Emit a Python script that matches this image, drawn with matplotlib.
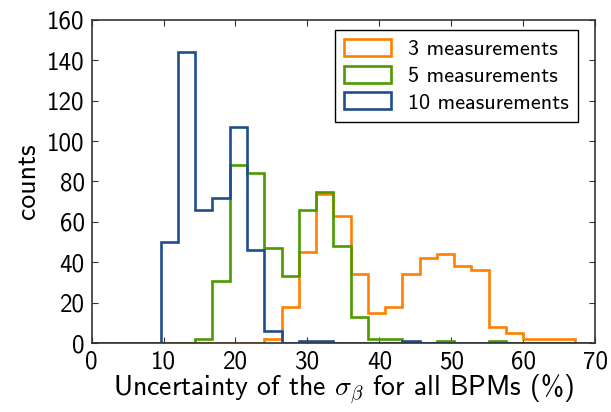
import numpy as np
import matplotlib
matplotlib.use("Agg")
import matplotlib.pyplot as plt

# --- DADOS ---
bordas = np.arange(0, 69.7, 2.4)   # 30 bordas -> 29 bins

contagem_3 = [0, 0, 0, 0, 0, 0, 0, 0, 0, 0, 2, 18, 45, 74, 63, 34, 15, 18, 34,
              42, 44, 38, 36, 8, 5, 2, 2, 2, 0]
contagem_5 = [0, 0, 0, 0, 0, 0, 2, 31, 88, 84, 47, 33, 66, 75, 48, 13, 2, 2, 0,
              0, 1, 0, 0, 1, 0, 0, 0, 0, 0]
contagem_10 = [0, 0, 0, 0, 50, 144, 66, 72, 107, 46, 6, 0, 1, 1, 0, 0, 0, 0, 1,
               0, 0, 0, 0, 0, 0, 0, 0, 0, 0]

rotulos = ['3 measurements', '5 measurements', '10 measurements']
cores = ['#ff7f00', '#4c9a00', '#1f4e8c']

# --- ESTILO ---
plt.rcParams['font.family'] = ['cmss10', 'DejaVu Sans']
plt.rcParams['mathtext.fontset'] = 'cm'
plt.rcParams['axes.unicode_minus'] = False

fig = plt.figure(figsize=(6.11, 4.12), dpi=100)
ax = fig.add_axes([0.150, 0.167, 0.824, 0.785])

centros = bordas[:-1] + 1.2
for cont, rot, cor in zip([contagem_3, contagem_5, contagem_10], rotulos, cores):
    ax.hist(centros, bins=bordas, weights=cont, histtype='step',
            color=cor, lw=1.9, label=rot)

ax.set_xlim(0, 70)
ax.set_ylim(0, 160)
ax.set_xticks(range(0, 71, 10))
ax.set_yticks(range(0, 161, 20))
ax.tick_params(direction='in', top=True, right=True, labelsize=18, length=4,
               color='#333333', pad=5)
for s in ax.spines.values():
    s.set_color('#333333')
    s.set_linewidth(1.2)

ax.set_xlabel(r'Uncertainty of the $\sigma_\beta$ for all BPMs (%)', fontsize=20,
              labelpad=0)
ax.set_ylabel('counts', fontsize=20, labelpad=5)

leg = ax.legend(loc='upper right', bbox_to_anchor=(0.966, 0.969), borderaxespad=0,
                fontsize=16, fancybox=False, framealpha=1, edgecolor='black',
                handlelength=2.1, handleheight=0.8, labelspacing=0.3,
                handletextpad=0.8, borderpad=0.4)
leg.get_frame().set_linewidth(1.0)

fig.savefig('out.png', dpi=100)
